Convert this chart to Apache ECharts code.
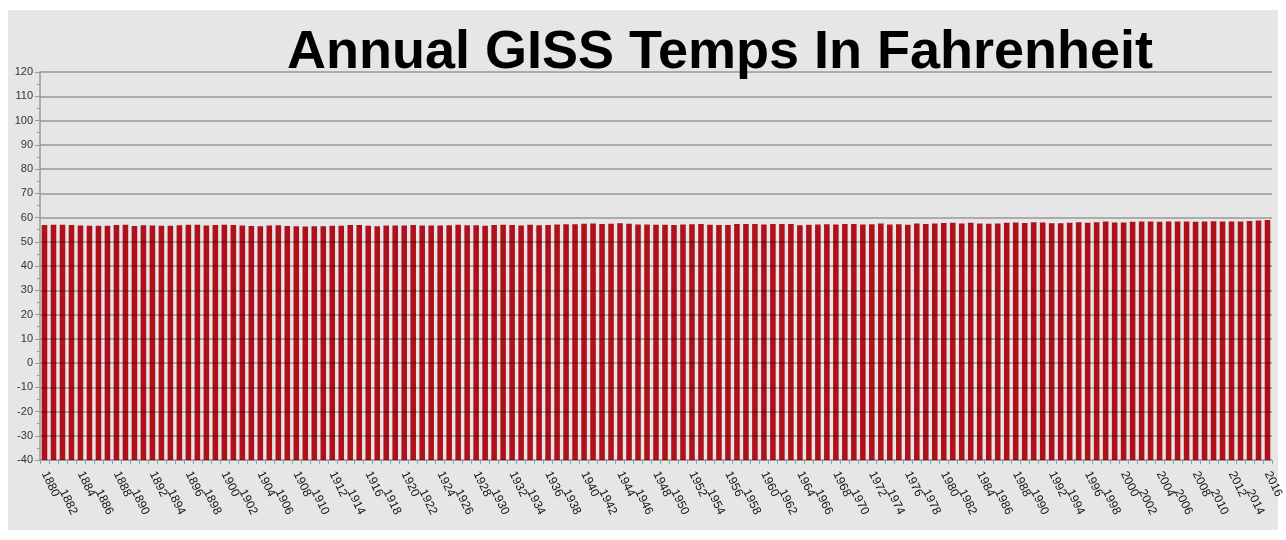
<!DOCTYPE html>
<html>
<head>
<meta charset="utf-8">
<script src="https://cdn.jsdelivr.net/npm/echarts@6/dist/echarts.min.js"></script>
<style>
  html, body { margin: 0; padding: 0; background: #fff; }
  #chart { width: 1286px; height: 540px; }
</style>
</head>
<body>
<div id="chart"></div>
<script>
// years 1880..2016
const years = [
  '1880','1881','1882','1883','1884','1885','1886','1887','1888','1889',
  '1890','1891','1892','1893','1894','1895','1896','1897','1898','1899',
  '1900','1901','1902','1903','1904','1905','1906','1907','1908','1909',
  '1910','1911','1912','1913','1914','1915','1916','1917','1918','1919',
  '1920','1921','1922','1923','1924','1925','1926','1927','1928','1929',
  '1930','1931','1932','1933','1934','1935','1936','1937','1938','1939',
  '1940','1941','1942','1943','1944','1945','1946','1947','1948','1949',
  '1950','1951','1952','1953','1954','1955','1956','1957','1958','1959',
  '1960','1961','1962','1963','1964','1965','1966','1967','1968','1969',
  '1970','1971','1972','1973','1974','1975','1976','1977','1978','1979',
  '1980','1981','1982','1983','1984','1985','1986','1987','1988','1989',
  '1990','1991','1992','1993','1994','1995','1996','1997','1998','1999',
  '2000','2001','2002','2003','2004','2005','2006','2007','2008','2009',
  '2010','2011','2012','2013','2014','2015','2016'
]

// annual mean temperature, deg F
const tempsF = [
  56.9, 57.0, 57.0, 56.9, 56.7, 56.6, 56.6, 56.6, 56.9, 57.0,
  56.5, 56.8, 56.7, 56.6, 56.6, 56.8, 57.0, 57.0, 56.7, 56.9,
  57.0, 56.9, 56.7, 56.5, 56.4, 56.7, 56.8, 56.5, 56.4, 56.3,
  56.4, 56.4, 56.6, 56.6, 56.9, 56.9, 56.6, 56.4, 56.7, 56.7,
  56.7, 56.9, 56.7, 56.7, 56.7, 56.8, 57.0, 56.8, 56.8, 56.6,
  56.9, 57.0, 56.9, 56.7, 57.0, 56.8, 56.9, 57.1, 57.2, 57.2,
  57.4, 57.5, 57.3, 57.4, 57.6, 57.4, 57.1, 57.1, 57.0, 57.0,
  56.9, 57.1, 57.2, 57.3, 57.0, 56.9, 56.9, 57.3, 57.3, 57.3,
  57.1, 57.3, 57.3, 57.3, 56.8, 57.0, 57.1, 57.2, 57.1, 57.3,
  57.3, 57.1, 57.2, 57.5, 57.1, 57.2, 57.0, 57.5, 57.3, 57.5,
  57.7, 57.8, 57.5, 57.8, 57.5, 57.4, 57.5, 57.8, 57.9, 57.7,
  58.0, 57.9, 57.6, 57.6, 57.8, 58.0, 57.8, 58.0, 58.3, 57.9,
  57.9, 58.2, 58.3, 58.3, 58.2, 58.4, 58.4, 58.4, 58.2, 58.4,
  58.5, 58.3, 58.4, 58.4, 58.6, 58.8, 59.0
]

const yMin = -40
const yMax = 120
const yStep = 10

const chart = echarts.init(document.getElementById('chart'))

// labels every 2 years, staggered in two rows like the original
const labelStyle = {
  rotate: -64,
  fontSize: 12,
  fontFamily: 'Liberation Sans',
  color: '#111',
  hideOverlap: false
}

chart.setOption({
  backgroundColor: '#ffffff',
  animation: false,
  graphic: [
    {
      type: 'rect',
      z: -10,
      shape: { x: 8, y: 10, width: 1270, height: 520 },
      style: { fill: '#e6e6e6' }
    }
  ],
  title: {
    text: 'Annual GISS Temps In Fahrenheit',
    left: 715,
    textAlign: 'center',
    top: 21,
    textStyle: {
      fontFamily: 'Liberation Sans',
      fontWeight: 'bold',
      fontSize: 54,
      color: '#000'
    }
  },
  grid: { left: 40, right: 14, top: 72, bottom: 80 },
  xAxis: [
    {
      type: 'category',
      data: years,
      axisLine: { onZero: false, lineStyle: { color: '#9a9a9a', width: 1 } },
      axisTick: { show: true, interval: 0, length: 4, lineStyle: { color: '#9a9a9a' } },
      axisLabel: Object.assign({}, labelStyle, {
        interval: (i) => i % 4 === 0,
        margin: 12
      })
    },
    {
      type: 'category',
      data: years,
      position: 'bottom',
      axisLine: { show: false, onZero: false },
      axisTick: { show: false },
      axisLabel: Object.assign({}, labelStyle, {
        interval: (i) => i % 4 === 2,
        margin: 30
      })
    }
  ],
  yAxis: {
    type: 'value',
    min: yMin,
    max: yMax,
    interval: yStep,
    axisLine: { show: true, lineStyle: { color: '#9a9a9a', width: 1.5 } },
    axisTick: { show: true, length: 5, lineStyle: { color: '#9a9a9a' } },
    minorTick: { show: true, splitNumber: 2, length: 3, lineStyle: { color: '#9a9a9a' } },
    axisLabel: {
      fontSize: 11,
      fontFamily: 'Liberation Sans',
      color: '#333',
      margin: 7
    },
    splitLine: { lineStyle: { color: 'rgba(0,0,0,0.25)', width: 2 } }
  },
  series: [
    {
      // bars rise from the bottom of the axis (-40), not from zero
      type: 'custom',
      z: -5,
      xAxisIndex: 0,
      data: tempsF.map((v, i) => [i, v]),
      encode: { x: 0, y: 1 },
      renderItem: (params, api) => {
        const top = api.coord([api.value(0), api.value(1)])
        const base = api.coord([api.value(0), yMin])
        const w = api.size([1, 0])[0] * 0.62
        return {
          type: 'rect',
          shape: { x: top[0] - w / 2, y: top[1], width: w, height: base[1] - top[1] },
          style: { fill: '#b0101c' }
        }
      }
    }
  ]
})
</script>
</body>
</html>
